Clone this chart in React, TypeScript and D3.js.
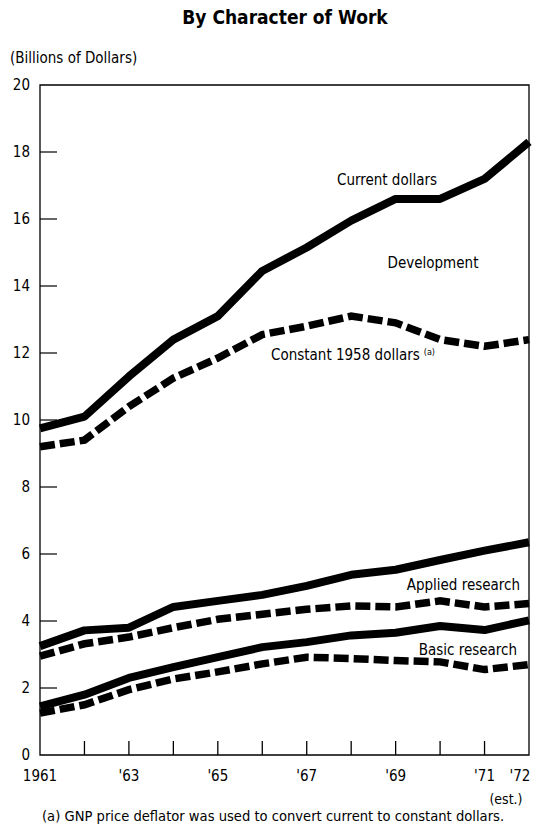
import React from "react";
import * as d3 from "d3";

const years = [1961, 1962, 1963, 1964, 1965, 1966, 1967, 1968, 1969, 1970, 1971, 1972];

const devCurrent = [9.75, 10.1, 11.3, 12.4, 13.1, 14.45, 15.15, 15.95, 16.6, 16.6, 17.2, 18.3];
const devConstant = [9.2, 9.4, 10.4, 11.25, 11.85, 12.55, 12.8, 13.1, 12.9, 12.4, 12.2, 12.4];
const appliedCurrent = [3.25, 3.72, 3.8, 4.42, 4.6, 4.78, 5.05, 5.38, 5.53, 5.82, 6.1, 6.35];
const appliedConstant = [2.95, 3.32, 3.52, 3.8, 4.05, 4.2, 4.35, 4.45, 4.42, 4.6, 4.42, 4.52];
const basicCurrent = [1.45, 1.8, 2.3, 2.62, 2.92, 3.22, 3.37, 3.57, 3.65, 3.85, 3.73, 4.02];
const basicConstant = [1.25, 1.5, 1.95, 2.27, 2.48, 2.72, 2.92, 2.88, 2.82, 2.78, 2.55, 2.7];

const yTicks = [0, 2, 4, 6, 8, 10, 12, 14, 16, 18, 20];
const xLabels = [
  { year: 1961, label: "1961" },
  { year: 1963, label: "'63" },
  { year: 1965, label: "'65" },
  { year: 1967, label: "'67" },
  { year: 1969, label: "'69" },
  { year: 1971, label: "'71" },
  { year: 1972, label: "'72" },
];

const FONT = "'Liberation Sans Narrow', 'DejaVu Sans Condensed', sans-serif";

export default function App() {
  const left = 40;
  const right = 529;
  const top = 85;
  const bottom = 755;

  const x = d3.scaleLinear().domain([1961, 1972]).range([left, right]);
  const y = d3.scaleLinear().domain([0, 20]).range([bottom, top]);

  const line = d3
    .line<number>()
    .x((_, i) => x(years[i]))
    .y((d) => y(d))
    .curve(d3.curveLinear);

  const solid = [devCurrent, appliedCurrent, basicCurrent];
  const dashed = [devConstant, appliedConstant, basicConstant];

  return (
    <svg width={539} height={825} style={{ position: "absolute", left: 0, top: 0, background: "#fff" }}>
      <text x={285} y={24} textAnchor="middle" fontFamily={FONT} fontWeight="bold" fontSize={19}>
        By Character of Work
      </text>
      <text x={10} y={63} fontFamily={FONT} fontSize={15}>
        (Billions of Dollars)
      </text>

      {/* frame */}
      <path
        d={`M${left},${bottom}V${top}H${right}V${bottom}Z`}
        fill="none"
        stroke="#000"
        strokeWidth={1.3}
      />

      {/* y ticks */}
      {yTicks.map((t) => (
        <g key={t}>
          {t > 0 && t < 20 && (
            <line x1={left} x2={left + 17} y1={y(t)} y2={y(t)} stroke="#000" strokeWidth={1.2} />
          )}
          <text
            x={30}
            y={y(t)}
            dy="0.35em"
            textAnchor="end"
            fontFamily={FONT}
            fontSize={15}
          >
            {t}
          </text>
        </g>
      ))}

      {/* x ticks */}
      {years.slice(1, -1).map((yr) => (
        <line key={yr} x1={x(yr)} x2={x(yr)} y1={bottom} y2={bottom - 14} stroke="#000" strokeWidth={1.3} />
      ))}
      {xLabels.map((d) => (
        <text
          key={d.year}
          x={d.year === 1972 ? x(d.year) - 9 : x(d.year)}
          y={781}
          textAnchor="middle"
          fontFamily={FONT}
          fontSize={15}
        >
          {d.label}
        </text>
      ))}
      <text x={506} y={804} textAnchor="middle" fontFamily={FONT} fontSize={14}>
        (est.)
      </text>

      {solid.map((s, i) => (
        <path key={`s${i}`} d={line(s) ?? ""} fill="none" stroke="#000" strokeWidth={8} strokeLinejoin="round" />
      ))}
      {dashed.map((s, i) => (
        <path
          key={`d${i}`}
          d={line(s) ?? ""}
          fill="none"
          stroke="#000"
          strokeWidth={7.5}
          strokeDasharray="15 5"
        />
      ))}

      <text x={387} y={185} textAnchor="middle" fontFamily={FONT} fontSize={15}>
        Current dollars
      </text>
      <text x={433} y={268} textAnchor="middle" fontFamily={FONT} fontSize={15}>
        Development
      </text>
      <text x={271} y={360} fontFamily={FONT} fontSize={15}>
        Constant 1958 dollars
        <tspan fontSize={9} dx={4} dy={-5}>(a)</tspan>
      </text>
      <text x={520} y={590} textAnchor="end" fontFamily={FONT} fontSize={15}>
        Applied research
      </text>
      <text x={517} y={655} textAnchor="end" fontFamily={FONT} fontSize={15}>
        Basic research
      </text>

      <text x={42} y={821} fontFamily={FONT} fontSize={14.6}>
        (a)  GNP price deflator was used to convert current to constant dollars.
      </text>
    </svg>
  );
}
